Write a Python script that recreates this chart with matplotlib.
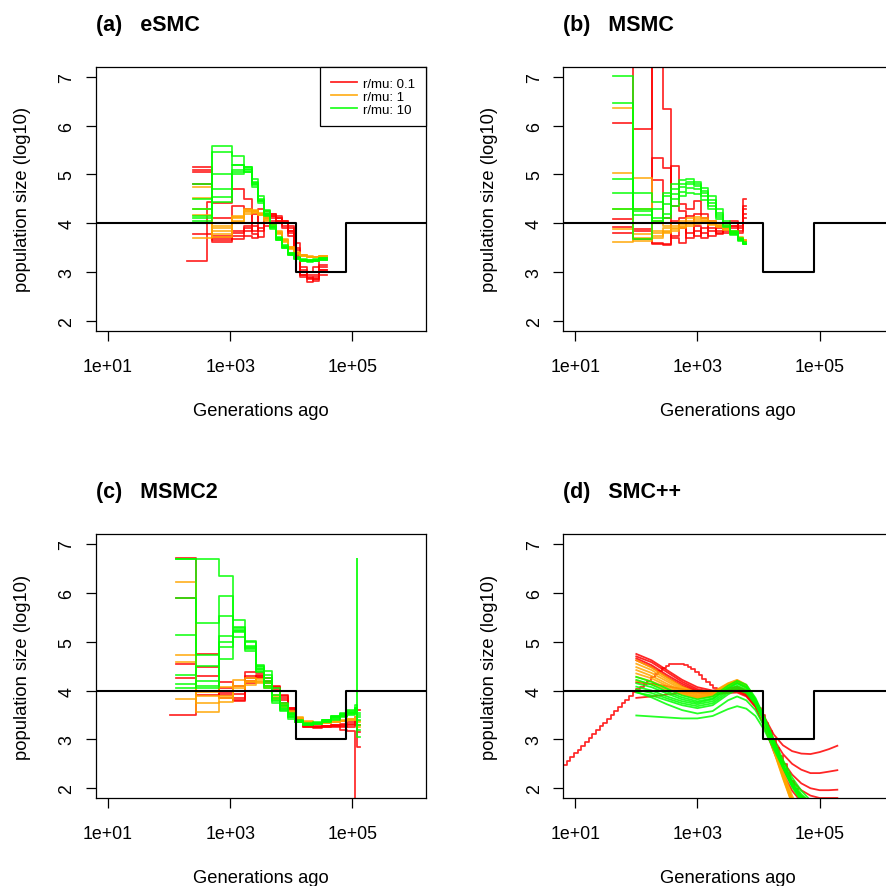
import matplotlib
matplotlib.use("Agg")
import matplotlib.pyplot as plt
from matplotlib.lines import Line2D
from matplotlib.ticker import NullLocator
import numpy as np

plt.rcParams["font.family"] = ["Liberation Sans", "DejaVu Sans"]

nan = np.nan

# simulated (true) history: generations ago -> log10 population size
true_gen = [1, 1.2e4, 8e4, 1e7]
true_log_ne = [4, 3, 4, 4]

x_ticks = [1e1, 1e3, 1e5]
x_tick_labels = ["1e+01", "1e+03", "1e+05"]
y_ticks = [2, 3, 4, 5, 6, 7]

rate_labels = ["r/mu: 0.1", "r/mu: 1", "r/mu: 10"]
rate_colors = ["#FF0000", "#FFA500", "#00FF00"]

# ---- eSMC: interval bounds (log10 generations), one row per replicate ----
esmc_bounds = [2.30, 2.40, 2.62, 2.71, 3.03, 3.22, 3.35, 3.45, 3.55, 3.65,
               3.75, 3.85, 3.95, 4.05, 4.15, 4.25, 4.35, 4.45, 4.58]
esmc_red = [
    [nan, 5.15, 5.15, 4.41, 4.71, 4.50, 4.25, 4.00, 4.25, 4.20, 4.10, 4.05, 3.90, 3.50, 3.00, 2.90, 2.85, 3.10],
    [nan, 5.10, 5.10, 3.62, 4.35, 4.30, 3.95, 3.85, 4.20, 4.15, 4.05, 3.95, 3.80, 3.35, 2.95, 2.85, 2.82, 3.05],
    [nan, 5.05, 5.05, 3.65, 3.75, 3.85, 4.20, 4.30, 4.15, 4.20, 4.15, 4.00, 3.85, 3.60, 3.10, 2.95, 2.95, 3.15],
    [nan, 4.80, 4.80, 3.70, 3.68, 3.75, 3.70, 4.20, 4.10, 4.10, 4.10, 4.05, 3.95, 3.45, 2.90, 2.88, 2.90, 2.95],
    [nan, 3.78, 3.78, 3.75, 3.80, 3.90, 3.85, 3.90, 4.00, 4.05, 4.00, 3.90, 3.75, 3.30, 3.05, 3.00, 3.10, 3.30],
    [3.22, 3.22, 4.43, 4.10, 3.85, 3.95, 3.78, 3.72, 3.95, 4.15, 4.05, 4.00, 3.85, 3.40, 2.95, 2.80, 2.85, 3.05],
]
esmc_orange = [
    [nan, 4.75, 4.75, 3.72, 4.15, 4.28, 4.25, 4.20, 4.10, 3.98, 3.82, 3.66, 3.50, 3.40, 3.35, 3.32, 3.32, 3.33],
    [nan, 4.51, 4.51, 3.78, 4.05, 4.23, 4.28, 4.22, 4.12, 3.96, 3.80, 3.64, 3.48, 3.39, 3.34, 3.31, 3.31, 3.32],
    [nan, 4.18, 4.18, 3.85, 4.10, 4.30, 4.22, 4.18, 4.06, 3.94, 3.84, 3.68, 3.52, 3.41, 3.36, 3.33, 3.32, 3.34],
    [nan, 3.69, 3.69, 3.90, 4.02, 4.20, 4.26, 4.20, 4.08, 3.97, 3.78, 3.62, 3.49, 3.38, 3.33, 3.31, 3.30, 3.31],
    [nan, 4.30, 4.30, 3.95, 4.12, 4.25, 4.24, 4.16, 4.04, 3.92, 3.80, 3.65, 3.51, 3.40, 3.35, 3.32, 3.31, 3.33],
]
esmc_green = [
    [nan, 4.80, 4.80, 5.59, 5.38, 5.15, 4.85, 4.50, 4.25, 3.95, 3.70, 3.52, 3.38, 3.28, 3.24, 3.22, 3.23, 3.25],
    [nan, 4.15, 4.15, 5.45, 5.20, 5.05, 4.78, 4.45, 4.18, 3.90, 3.68, 3.55, 3.40, 3.30, 3.26, 3.25, 3.26, 3.28],
    [nan, 4.30, 4.30, 5.00, 5.10, 5.16, 4.90, 4.55, 4.28, 3.98, 3.72, 3.50, 3.36, 3.27, 3.22, 3.21, 3.22, 3.24],
    [nan, 4.10, 4.10, 4.70, 5.05, 5.10, 4.80, 4.48, 4.20, 3.92, 3.66, 3.52, 3.37, 3.28, 3.25, 3.23, 3.24, 3.27],
    [nan, 4.50, 4.50, 4.43, 5.00, 5.05, 4.75, 4.42, 4.15, 3.88, 3.65, 3.50, 3.35, 3.26, 3.23, 3.22, 3.23, 3.26],
    [nan, 4.05, 4.05, 4.53, 5.20, 5.12, 4.82, 4.46, 4.22, 3.93, 3.69, 3.54, 3.39, 3.29, 3.25, 3.24, 3.25, 3.28],
]

# ---- MSMC ----
msmc_bounds = [1.62, 1.94, 2.25, 2.44, 2.57, 2.70, 2.82, 2.94, 3.06, 3.18,
               3.30, 3.42, 3.54, 3.66, 3.74, 3.80]
msmc_red = [
    [6.05, 8.00, 4.88, 4.10, 5.17, 4.40, 4.30, 4.45, 4.20, 4.00, 3.90, 3.95, 4.05, 3.95, 4.49],
    [4.08, 5.93, 8.00, 6.34, 4.36, 4.25, 3.80, 4.20, 4.10, 3.85, 3.95, 3.85, 3.90, 4.00, 4.30],
    [3.80, 3.88, 5.33, 5.14, 3.70, 3.60, 4.00, 3.75, 3.90, 4.05, 3.80, 4.00, 3.95, 3.85, 4.20],
    [4.00, 3.68, 3.58, 3.57, 4.05, 3.90, 3.70, 3.85, 3.80, 3.75, 3.85, 3.80, 4.00, 3.90, 4.10],
    [3.92, 3.85, 3.60, 3.55, 3.75, 4.10, 4.15, 3.95, 3.70, 3.90, 3.78, 3.90, 3.95, 3.80, 4.35],
]
msmc_orange = [
    [6.37, 4.93, 4.05, 3.95, 4.00, 4.05, 4.10, 4.12, 4.10, 4.05, 4.00, 3.95, 3.85, 3.72, 3.66],
    [5.04, 3.78, 3.70, 3.90, 3.95, 3.98, 4.05, 4.08, 4.06, 4.02, 3.98, 3.92, 3.82, 3.70, 3.64],
    [4.29, 4.30, 3.85, 3.80, 3.88, 3.95, 4.00, 4.05, 4.05, 4.00, 3.95, 3.90, 3.80, 3.70, 3.65],
    [3.88, 3.64, 3.75, 3.85, 3.90, 3.92, 3.98, 4.00, 4.02, 3.98, 3.95, 3.88, 3.80, 3.68, 3.63],
    [3.62, 3.70, 3.80, 3.82, 3.85, 3.90, 3.95, 3.98, 4.00, 3.96, 3.92, 3.86, 3.78, 3.68, 3.64],
]
msmc_green = [
    [7.02, 4.63, 4.43, 4.63, 4.80, 4.88, 4.90, 4.85, 4.72, 4.55, 4.30, 4.05, 3.85, 3.70, 3.62],
    [6.46, 3.67, 4.29, 4.55, 4.70, 4.80, 4.85, 4.80, 4.66, 4.48, 4.22, 4.00, 3.82, 3.68, 3.60],
    [4.90, 4.30, 4.10, 4.40, 4.60, 4.75, 4.80, 4.76, 4.62, 4.42, 4.18, 3.98, 3.80, 3.66, 3.58],
    [4.62, 4.25, 4.05, 4.20, 4.50, 4.65, 4.72, 4.70, 4.55, 4.36, 4.12, 3.95, 3.78, 3.65, 3.58],
    [4.30, 4.18, 4.00, 4.10, 4.35, 4.55, 4.62, 4.60, 4.48, 4.30, 4.08, 3.92, 3.76, 3.64, 3.57],
]

# ---- MSMC2 ----
msmc2_bounds = [2.02, 2.12, 2.44, 2.82, 3.05, 3.24, 3.42, 3.56, 3.68, 3.82, 3.95,
                4.06, 4.20, 4.35, 4.50, 4.65, 4.80, 4.92, 5.04, 5.07, 5.08, 5.12]
msmc2_red = [
    [nan, 6.72, 4.75, 4.17, 4.10, 4.38, 4.35, 4.20, 4.05, 3.85, 3.65, 3.42, 3.30, 3.27, 3.28, 3.27, 3.25, 3.30, 3.35, 3.35, 2.85],
    [nan, 5.90, 4.30, 3.95, 3.85, 4.20, 4.30, 4.10, 4.10, 3.90, 3.62, 3.38, 3.27, 3.25, 3.25, 3.25, 3.20, 3.18, 1.00, nan, nan],
    [nan, 4.55, 4.00, 3.85, 3.80, 4.30, 4.25, 4.25, 4.00, 3.80, 3.60, 3.36, 3.25, 3.25, 3.27, 3.30, 3.32, 3.35, 3.45, 3.60, 3.60],
    [3.50, 3.50, 4.48, 3.90, 3.78, 4.15, 4.32, 4.15, 4.02, 3.75, 3.58, 3.35, 3.26, 3.24, 3.26, 3.28, 3.28, 3.25, 3.30, 3.30, 3.15],
    [nan, 4.25, 3.90, 4.05, 3.92, 4.25, 4.28, 4.18, 4.08, 3.88, 3.64, 3.40, 3.28, 3.26, 3.28, 3.30, 3.30, 3.32, 3.40, 3.40, 3.30],
]
msmc2_orange = [
    [nan, 6.23, 3.57, 3.76, 4.22, 4.25, 4.20, 4.10, 3.85, 3.68, 3.55, 3.43, 3.36, 3.33, 3.34, 3.36, 3.38, 3.40, 3.44, 3.44, 3.35],
    [nan, 4.72, 3.97, 4.07, 4.10, 4.18, 4.24, 4.15, 3.90, 3.70, 3.56, 3.45, 3.37, 3.34, 3.35, 3.37, 3.39, 3.42, 3.46, 3.46, 3.30],
    [nan, 4.58, 3.75, 3.89, 4.00, 4.12, 4.15, 4.05, 3.82, 3.66, 3.52, 3.42, 3.35, 3.33, 3.33, 3.35, 3.37, 3.39, 3.42, 3.42, 3.38],
    [nan, 3.82, 3.88, 3.84, 4.05, 4.20, 4.18, 4.08, 3.88, 3.72, 3.58, 3.44, 3.36, 3.32, 3.34, 3.36, 3.38, 3.41, 3.40, 3.40, 3.25],
]
msmc2_green = [
    [nan, 6.70, 6.70, 6.35, 5.30, 5.00, 4.50, 4.20, 3.85, 3.65, 3.50, 3.38, 3.32, 3.35, 3.40, 3.48, 3.55, 3.60, 3.58, 6.70, 3.05],
    [nan, 6.70, 4.05, 5.93, 5.45, 4.92, 4.45, 4.05, 3.78, 3.58, 3.45, 3.36, 3.31, 3.33, 3.38, 3.45, 3.50, 3.55, 3.62, 3.62, 3.40],
    [nan, 5.89, 5.38, 5.52, 5.25, 4.88, 4.38, 4.40, 4.05, 3.75, 3.52, 3.40, 3.33, 3.34, 3.40, 3.46, 3.52, 3.58, 3.70, 3.70, 3.55],
    [nan, 5.14, 4.72, 5.12, 5.20, 4.85, 4.52, 4.31, 4.00, 3.70, 3.55, 3.38, 3.30, 3.32, 3.36, 3.42, 3.48, 3.52, 3.60, 3.60, 3.30],
    [nan, 4.31, 4.51, 4.89, 5.22, 5.02, 4.45, 4.10, 3.75, 3.60, 3.42, 3.35, 3.31, 3.33, 3.37, 3.44, 3.47, 3.54, 3.65, 3.65, 3.20],
    [nan, 4.14, 4.20, 5.00, 5.28, 4.82, 4.48, 4.25, 3.90, 3.68, 3.48, 3.36, 3.30, 3.31, 3.35, 3.40, 3.46, 3.50, 3.57, 3.57, 3.45],
    [nan, 4.05, 4.10, 4.65, 5.10, 4.90, 4.40, 4.15, 3.80, 3.62, 3.46, 3.37, 3.32, 3.34, 3.39, 3.47, 3.53, 3.57, 3.64, 3.64, 3.50],
]

# ---- SMC++: smooth curves sampled at log10 generations ----
smcpp_points = [2.0, 2.25, 2.5, 2.75, 3.0, 3.25, 3.5, 3.65, 3.8, 3.95,
                4.1, 4.25, 4.4, 4.55, 4.7, 4.85, 5.0, 5.15, 5.29]
smcpp_red = [
    [4.75, 4.62, 4.42, 4.22, 4.07, 4.00, 4.05, 4.08, 4.00, 3.80, 3.45, 3.10, 2.88, 2.76, 2.71, 2.70, 2.74, 2.80, 2.87],
    [4.70, 4.58, 4.38, 4.18, 4.03, 3.97, 4.02, 4.05, 3.97, 3.76, 3.40, 3.00, 2.70, 2.50, 2.38, 2.31, 2.31, 2.34, 2.37],
    [4.66, 4.52, 4.32, 4.14, 4.00, 3.95, 4.00, 4.02, 3.94, 3.72, 3.35, 2.92, 2.55, 2.28, 2.10, 2.00, 1.96, 1.96, 1.97],
    [4.62, 4.48, 4.28, 4.10, 3.98, 3.94, 3.98, 4.00, 3.92, 3.70, 3.30, 2.85, 2.45, 2.15, 1.96, 1.85, 1.80, 1.80, 1.80],
    [4.17, 4.14, 4.09, 4.03, 3.98, 3.93, 3.97, 3.99, 3.90, 3.68, 3.28, 2.80, 2.38, 2.05, 1.85, 1.72, nan, nan, nan],
    [3.85, 3.88, 3.92, 3.95, 3.96, 3.92, 3.95, 3.96, 3.88, 3.66, 3.25, 2.75, 2.30, 1.95, 1.72, nan, nan, nan, nan],
]
smcpp_orange = [
    [4.62, 4.47, 4.27, 4.08, 3.95, 3.97, 4.15, 4.22, 4.12, 3.82, 3.38, 2.85, 2.30, 1.75, nan, nan, nan, nan, nan],
    [4.55, 4.42, 4.23, 4.05, 3.92, 3.95, 4.14, 4.21, 4.10, 3.80, 3.35, 2.80, 2.25, 1.70, nan, nan, nan, nan, nan],
    [4.48, 4.36, 4.19, 4.02, 3.90, 3.93, 4.12, 4.19, 4.08, 3.78, 3.34, 2.82, 2.30, 1.78, nan, nan, nan, nan, nan],
    [4.42, 4.30, 4.14, 3.99, 3.88, 3.92, 4.12, 4.20, 4.09, 3.79, 3.33, 2.78, 2.22, 1.70, nan, nan, nan, nan, nan],
    [4.35, 4.25, 4.10, 3.96, 3.86, 3.90, 4.10, 4.18, 4.06, 3.76, 3.32, 2.80, 2.27, 1.75, nan, nan, nan, nan, nan],
    [4.28, 4.19, 4.06, 3.94, 3.85, 3.90, 4.11, 4.19, 4.08, 3.78, 3.36, 2.86, 2.35, 1.85, 1.45, nan, nan, nan, nan],
    [4.20, 4.13, 4.02, 3.92, 3.84, 3.88, 4.08, 4.16, 4.05, 3.75, 3.30, 2.76, 2.20, 1.68, nan, nan, nan, nan, nan],
]
smcpp_green = [
    [4.28, 4.18, 4.04, 3.90, 3.82, 3.88, 4.10, 4.20, 4.12, 3.85, 3.45, 3.00, 2.58, 2.22, 1.95, 1.75, nan, nan, nan],
    [4.22, 4.12, 3.98, 3.86, 3.78, 3.84, 4.06, 4.16, 4.08, 3.82, 3.42, 2.95, 2.52, 2.15, 1.88, 1.70, nan, nan, nan],
    [4.15, 4.07, 3.94, 3.82, 3.75, 3.82, 4.04, 4.14, 4.06, 3.80, 3.40, 2.93, 2.48, 2.10, 1.82, 1.65, nan, nan, nan],
    [4.08, 4.00, 3.88, 3.78, 3.72, 3.78, 4.00, 4.10, 4.02, 3.77, 3.38, 2.90, 2.45, 2.05, 1.76, nan, nan, nan, nan],
    [4.02, 3.95, 3.84, 3.74, 3.68, 3.74, 3.96, 4.06, 3.98, 3.74, 3.36, 2.90, 2.46, 2.08, 1.80, 1.62, nan, nan, nan],
    [3.96, 3.90, 3.80, 3.70, 3.64, 3.70, 3.92, 4.02, 3.95, 3.72, 3.34, 2.88, 2.42, 2.02, 1.74, nan, nan, nan, nan],
    [3.97, 3.86, 3.72, 3.60, 3.53, 3.58, 3.80, 3.88, 3.80, 3.60, 3.25, 2.85, 2.45, 2.10, 1.84, 1.66, nan, nan, nan],
    [3.49, 3.47, 3.45, 3.43, 3.43, 3.48, 3.62, 3.68, 3.63, 3.48, 3.18, 2.80, 2.42, 2.08, 1.82, 1.64, nan, nan, nan],
]

# one SMC++ run exported as a fine step function
smcpp_step_bounds = [0.80, 0.86, 0.92, 0.98, 1.04, 1.10, 1.16, 1.22, 1.28, 1.34, 1.40, 1.46,
                     1.52, 1.58, 1.64, 1.70, 1.76, 1.82, 1.88, 1.94, 2.00, 2.06, 2.12, 2.18,
                     2.24, 2.30, 2.36, 2.42, 2.48, 2.54, 2.60, 2.66, 2.72, 2.78, 2.84, 2.90,
                     2.96, 3.02, 3.08, 3.14, 3.20, 3.26, 3.32, 3.38, 3.44, 3.50, 3.56, 3.62,
                     3.68, 3.74, 3.80, 3.86, 3.92, 3.98, 4.04, 4.10, 4.16, 4.22, 4.28, 4.34,
                     4.40, 4.46, 4.52, 4.58, 4.64]
smcpp_step_values = [2.48, 2.56, 2.64, 2.72, 2.79, 2.87, 2.95, 3.03, 3.11, 3.19, 3.27, 3.34,
                     3.42, 3.50, 3.58, 3.66, 3.74, 3.81, 3.89, 3.97, 4.03, 4.08, 4.14, 4.20,
                     4.27, 4.34, 4.41, 4.46, 4.51, 4.54, 4.55, 4.55, 4.54, 4.52, 4.49, 4.44,
                     4.38, 4.31, 4.24, 4.17, 4.11, 4.06, 4.03, 4.01, 4.00, 4.00, 4.01, 4.02,
                     4.01, 3.98, 3.93, 3.86, 3.76, 3.64, 3.50, 3.34, 3.17, 3.00, 2.83, 2.66,
                     2.49, 2.32, 2.15, 1.98]


def draw_steps(ax, bounds, runs, color):
    x = 10 ** np.array(bounds)
    for run in runs:
        y = list(run) + [run[-1]]
        ax.plot(x, y, drawstyle="steps-post", color=color, lw=1.25, alpha=0.85)


def draw_curves(ax, points, runs, color):
    x = 10 ** np.array(points)
    for run in runs:
        ax.plot(x, run, color=color, lw=1.3, alpha=0.85)


def style_axis(ax, title):
    ax.set_xscale("log")
    ax.set_xlim(10 ** 0.8, 10 ** 6.2)
    ax.set_ylim(1.8, 7.2)
    ax.set_xticks(x_ticks, x_tick_labels)
    ax.xaxis.set_minor_locator(NullLocator())
    ax.set_yticks(y_ticks)
    ax.tick_params(axis="both", direction="out", length=7.5, width=0.9,
                   labelsize=12.8, colors="black")
    ax.tick_params(axis="x", pad=12)
    ax.tick_params(axis="y", pad=7, labelrotation=90)
    for lbl in ax.get_yticklabels():
        lbl.set_va("center")
    for sp in ax.spines.values():
        sp.set_linewidth(0.9)
    ax.set_title(title, loc="left", fontweight="bold", fontsize=15.5, pad=26.5)
    ax.set_xlabel("Generations ago", fontsize=13.2)
    ax.xaxis.set_label_coords(0.5, -0.27)
    ax.set_ylabel("population size (log10)", fontsize=13.2)
    ax.yaxis.set_label_coords(-0.196, 0.5)
    # true history on top
    ax.plot(true_gen, true_log_ne, drawstyle="steps-post", color="black", lw=1.5, zorder=5)


fig = plt.figure(figsize=(8.87, 8.87), dpi=100)
w, h = 0.3720, 0.2973
ax_a = fig.add_axes([0.1079, 0.6260, w, h])
ax_b = fig.add_axes([0.6347, 0.6260, w, h])
ax_c = fig.add_axes([0.1079, 0.0992, w, h])
ax_d = fig.add_axes([0.6347, 0.0992, w, h])

for runs, col in zip([esmc_red, esmc_orange, esmc_green], rate_colors):
    draw_steps(ax_a, esmc_bounds, runs, col)
for runs, col in zip([msmc_red, msmc_orange, msmc_green], rate_colors):
    draw_steps(ax_b, msmc_bounds, runs, col)
for runs, col in zip([msmc2_red, msmc2_orange, msmc2_green], rate_colors):
    draw_steps(ax_c, msmc2_bounds, runs, col)
draw_steps(ax_d, smcpp_step_bounds, [smcpp_step_values], rate_colors[0])
for runs, col in zip([smcpp_red, smcpp_orange, smcpp_green], rate_colors):
    draw_curves(ax_d, smcpp_points, runs, col)

style_axis(ax_a, "(a)   eSMC")
style_axis(ax_b, "(b)   MSMC")
style_axis(ax_c, "(c)   MSMC2")
style_axis(ax_d, "(d)   SMC++")

handles = [Line2D([], [], color=c, lw=1.3, alpha=0.85) for c in rate_colors]
leg = ax_a.legend(handles, rate_labels, loc="upper right", fontsize=9.5,
                  frameon=True, fancybox=False, edgecolor="black", framealpha=1,
                  borderaxespad=0, handlelength=2.0, handletextpad=0.45,
                  labelspacing=0.05, borderpad=0.8)
leg.get_frame().set_linewidth(0.9)
leg.set_zorder(10)

fig.savefig("out.png", dpi=100)
